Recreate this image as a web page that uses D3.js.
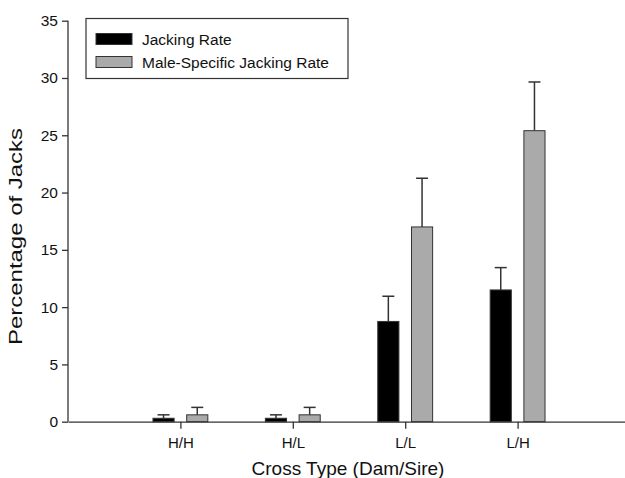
<!DOCTYPE html>
<html>
<head>
<meta charset="utf-8">
<script src="https://cdn.jsdelivr.net/npm/d3@7"></script>
<style>
  body { margin: 0; background: #fff; }
  svg text { font-family: "Liberation Sans", Arial, sans-serif; fill: #111; }
</style>
</head>
<body>
<svg id="canvas" width="625" height="478"></svg>
<script>
// data
var categories = ["H/H", "H/L", "L/L", "L/H"];
var jackingRate = [0.3, 0.3, 8.75, 11.5];
var jackingErr = [0.3, 0.3, 2.2, 1.95];
var maleRate = [0.6, 0.6, 17.0, 25.4];
var maleErr = [0.65, 0.65, 4.25, 4.25];
var seriesNames = ["Jacking Rate", "Male-Specific Jacking Rate"];
var yTicks = [0, 5, 10, 15, 20, 25, 30, 35];

var svg = d3.select("#canvas");
var axisColor = "#333";

// category i sits at x = i+1 on a 0..5 axis (like the original plot)
var x = d3.scaleLinear().domain([0, 5]).range([68, 630]);
var y = d3.scaleLinear().domain([0, 35]).range([421.7, 20.7]);

var series = [
  { name: seriesNames[0], vals: jackingRate, err: jackingErr, fill: "#000", off: -0.15 },
  { name: seriesNames[1], vals: maleRate, err: maleErr, fill: "#aaa", off: 0.15 }
];
var barW = x(0.188) - x(0);
var capW = 12;

var g = svg.append("g");

series.forEach(function(s) {
  var rows = categories.map(function(c, i) { return { i: i, v: s.vals[i], e: s.err[i] }; });
  var grp = g.append("g");
  // error whiskers (upper only)
  grp.selectAll("line.err").data(rows).enter().append("line")
    .attr("x1", function(d) { return x(d.i + 1 + s.off); })
    .attr("x2", function(d) { return x(d.i + 1 + s.off); })
    .attr("y1", function(d) { return y(d.v); })
    .attr("y2", function(d) { return y(d.v + d.e); })
    .attr("stroke", axisColor).attr("stroke-width", 1.5);
  grp.selectAll("line.cap").data(rows).enter().append("line")
    .attr("x1", function(d) { return x(d.i + 1 + s.off) - capW / 2; })
    .attr("x2", function(d) { return x(d.i + 1 + s.off) + capW / 2; })
    .attr("y1", function(d) { return y(d.v + d.e); })
    .attr("y2", function(d) { return y(d.v + d.e); })
    .attr("stroke", axisColor).attr("stroke-width", 1.5);
  grp.selectAll("rect").data(rows).enter().append("rect")
    .attr("x", function(d) { return x(d.i + 1 + s.off) - barW / 2; })
    .attr("width", barW)
    .attr("y", function(d) { return y(d.v); })
    .attr("height", function(d) { return y(0) - y(d.v); })
    .attr("fill", s.fill)
    .attr("stroke", axisColor).attr("stroke-width", 1);
});

// y axis
var yAxis = d3.axisLeft(y).tickValues(yTicks).tickSize(6).tickPadding(4);
var ya = svg.append("g").attr("transform", "translate(" + x(0) + ",0)").call(yAxis);
ya.selectAll("path, line").attr("stroke", axisColor).attr("stroke-width", 1.3);
ya.select(".domain").attr("d", "M0," + y(35) + "V" + y(0));
ya.selectAll("text").style("font-size", "15.5px").attr("fill", "#111")
  .style("font-family", "Liberation Sans, Arial, sans-serif");

// x axis
var xAxis = d3.axisBottom(x).tickValues([1, 2, 3, 4])
  .tickFormat(function(d) { return categories[d - 1]; })
  .tickSize(7).tickSizeOuter(0).tickPadding(9);
var xa = svg.append("g").attr("transform", "translate(0," + y(0) + ")").call(xAxis);
xa.selectAll("path, line").attr("stroke", axisColor).attr("stroke-width", 1.3);
xa.selectAll("text").style("font-size", "15px").attr("fill", "#111")
  .style("font-family", "Liberation Sans, Arial, sans-serif");

// axis titles
svg.append("text")
  .attr("transform", "translate(22,236.5) rotate(-90)")
  .attr("text-anchor", "middle")
  .attr("textLength", 217)
  .attr("lengthAdjust", "spacingAndGlyphs")
  .style("font-size", "18px")
  .text("Percentage of Jacks");
svg.append("text")
  .attr("x", 348).attr("y", 475)
  .attr("text-anchor", "middle")
  .style("font-size", "19px")
  .text("Cross Type (Dam/Sire)");

// legend
var lg = svg.append("g");
lg.append("rect").attr("x", 86).attr("y", 18.5).attr("width", 262).attr("height", 60)
  .attr("fill", "#fff").attr("stroke", axisColor).attr("stroke-width", 1.2);
series.forEach(function(s, i) {
  lg.append("rect").attr("x", 96).attr("y", 33.5 + i * 23).attr("width", 36).attr("height", 11)
    .attr("fill", s.fill).attr("stroke", axisColor).attr("stroke-width", 1);
  lg.append("text").attr("x", 142).attr("y", 45 + i * 22.5)
    .style("font-size", "15.5px").text(s.name);
});
</script>
</body>
</html>
